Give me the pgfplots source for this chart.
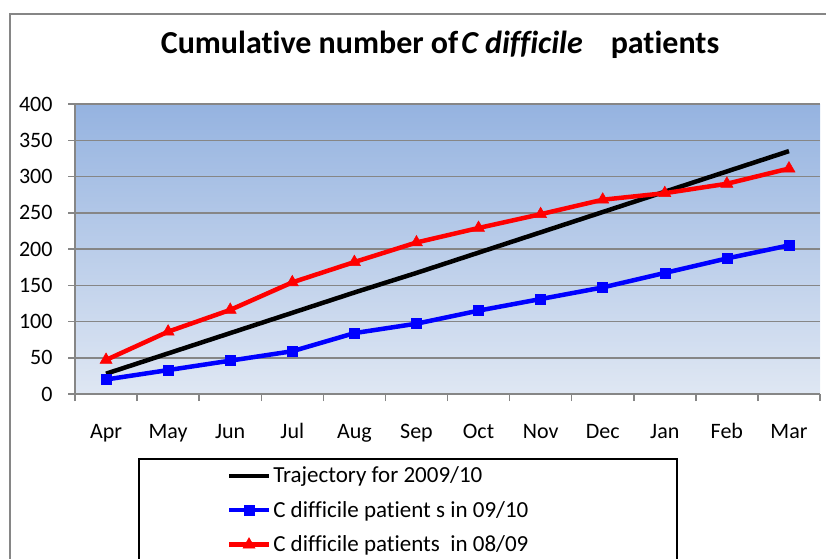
\documentclass[border=0pt]{standalone}
\usepackage{pgfplots}
\pgfplotsset{compat=1.18}
\usepackage{fontspec}
\setmainfont{Carlito}[Ligatures={NoCommon}]
\definecolor{gridgray}{RGB}{134,134,134}
\definecolor{bgtop}{RGB}{149,179,224}
\definecolor{bgbot}{RGB}{223,231,243}
\begin{document}
\begin{tikzpicture}
\useasboundingbox (0pt,0pt) rectangle (826pt,-558pt);
\begin{scope}
\clip (0pt,0pt) rectangle (826pt,-558pt);
\draw[gridgray, line width=1.5pt] (10pt,-14pt) rectangle (840pt,-580pt);
\begin{axis}[
  at={(75pt,-394pt)}, anchor=south west,
  scale only axis, width=745pt, height=290pt,
  xmin=-0.5, xmax=11.5, ymin=0, ymax=400,
  xtick={0,...,11},
  xticklabels={Apr,May,Jun,Jul,Aug,Sep,Oct,Nov,Dec,Jan,Feb,Mar},
  minor xtick={-0.5,0.5,...,11.5},
  ytick={0,50,...,400},
  axis x line*=bottom, axis y line*=left,
  axis line style={gridgray, line width=1.5pt},
  tick align=outside,
  major tick length=7pt, minor tick length=7pt,
  tick style={gridgray, line width=1.5pt},
  every major x tick/.style={draw=none},
  ymajorgrids, grid style={gridgray, line width=1.5pt},
  axis background/.style={top color=bgtop, bottom color=bgbot},
  ticklabel style={font=\fontsize{22}{26}\selectfont},
  /pgf/number format/assume math mode=true,
  yticklabel style={xshift=-12pt},
  xticklabel style={yshift=-19pt, text height=15pt, text depth=4pt},
  title={Cumulative number of\hspace{3pt}\textit{C difficile}\hspace{28pt}patients},
  title style={at={(axis description cs:0.49,1.152)}, anchor=base, font=\fontsize{32}{36}\selectfont\bfseries},
  legend style={at={(axis description cs:0.0846,-0.2207)}, anchor=north west,
    draw=black, line width=2pt, inner xsep=0pt, inner ysep=6pt, row sep=13pt,
    font=\fontsize{23}{27}\selectfont},
  legend cell align=left,
  legend image code/.code={\path[draw=none,fill=none] (0pt,0pt) -- (90pt,0pt);
    \draw[mark repeat=2,mark phase=2,#1] plot coordinates {(90pt,0pt) (110pt,0pt) (130pt,0pt)};},
]
\addplot[black, line width=4.5pt] coordinates {
(0,28) (1,56) (2,84) (3,112) (4,140) (5,167) (6,195) (7,223) (8,251) (9,279) (10,307) (11,335)};
\addlegendentry{\makebox[402pt][l]{Trajectory for 2009/10}}
\addplot[blue, line width=4.5pt, mark=square*, mark size=5pt, mark options={line width=0.5pt}] coordinates {
(0,20) (1,33) (2,46) (3,59) (4,84) (5,97) (6,115) (7,131) (8,147) (9,167) (10,187) (11,205)};
\addlegendentry{\makebox[402pt][l]{C difficile patient s in 09/10}}
\addplot[red, line width=4.5pt, mark=triangle*, mark size=7pt, mark options={line width=0.5pt}] coordinates {
(0,47) (1,86) (2,116) (3,154) (4,182) (5,209) (6,229) (7,248) (8,268) (9,277) (10,290) (11,311)};
\addlegendentry{\makebox[402pt][l]{C difficile patients\ \ in 08/09}}
\end{axis}
\end{scope}
\end{tikzpicture}
\end{document}
